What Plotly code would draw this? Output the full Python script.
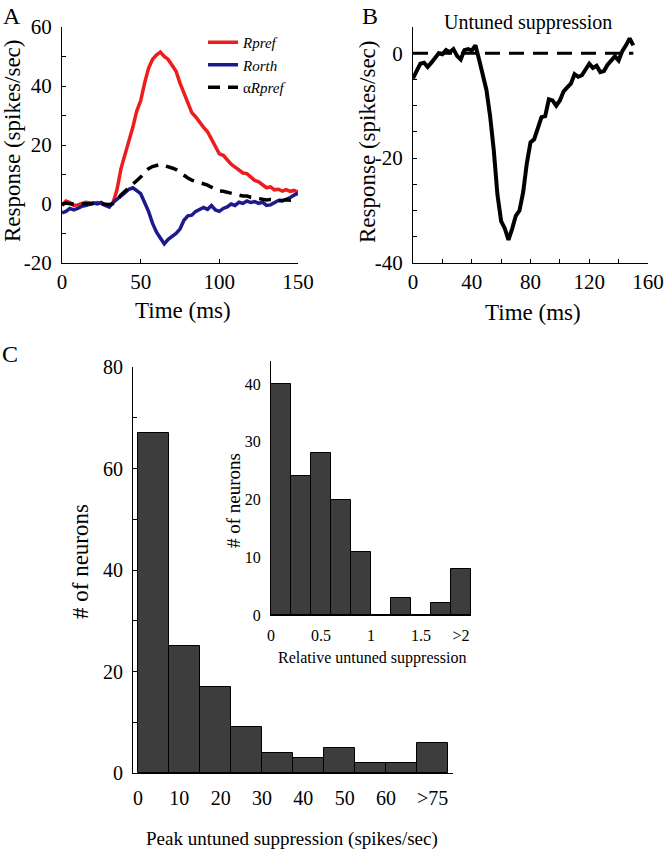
import plotly.graph_objects as go

# ---------------- data ----------------
time_a = [i * 2.5 for i in range(61)]
r_pref = [-0.5, 1.0, 0.5, -0.5, -0.3, 0.2, 0.6, 0.4, 0.3, 0.5, 0.2, -0.5, -0.8, 0.5, 5.0, 12.0,
          16.5, 21.0, 26.0, 31.5, 35.0, 41.0, 46.0, 49.0, 50.5, 51.5, 50.0, 49.0, 47.0, 45.0,
          41.0, 37.5, 34.0, 31.0, 29.5, 27.5, 26.0, 24.5, 22.0, 19.5, 17.0, 16.5, 15.0, 13.5,
          12.5, 11.5, 10.5, 10.3, 9.0, 8.0, 7.5, 6.5, 5.5, 5.8, 4.8, 5.0, 4.4, 4.9, 4.3, 4.6, 4.0]
r_orth = [-3.0, -2.5, -1.5, -2.0, -1.5, -0.8, -0.5, -0.2, 0.3, 0.0, 0.5, -0.3, -1.0, 0.5, 1.5, 2.5,
          3.8, 5.0, 5.5, 4.5, 3.5, 0.5, -2.5, -6.5, -9.5, -11.5, -13.5, -12.0, -11.0, -10.0,
          -8.5, -5.5, -4.0, -3.8, -2.5, -2.0, -1.2, -1.8, -0.5, -2.0, -2.5, -1.5, -1.0, 0.0,
          -0.5, 0.6, 0.2, 1.0, 0.5, 0.8, 0.2, 0.6, -0.5, -0.3, 0.5, 1.2, 1.0, 1.5, 2.2, 3.0, 3.6]
alpha_r_pref = [-0.1, 0.3, 0.1, -0.1, -0.1, 0.1, 0.2, 0.1, 0.1, 0.1, 0.1, -0.1, -0.2, 0.1, 1.3, 3.1,
                4.3, 5.5, 6.8, 8.2, 9.1, 10.7, 12.0, 12.7, 13.1, 13.4, 13.0, 12.7, 12.2, 11.7,
                10.7, 9.8, 8.8, 8.1, 7.7, 7.2, 6.8, 6.4, 5.7, 5.1, 4.4, 4.3, 3.9, 3.5,
                3.3, 3.0, 2.7, 2.7, 2.3, 2.1, 2.0, 1.7, 1.4, 1.5, 1.3, 1.4, 1.2, 1.4, 1.3, 1.5, 1.6]

time_b = [i * 2.5 for i in range(61)]
untuned = [-4.8, -3.2, -2.0, -1.8, -2.6, -1.8, -0.8, 0.0, -0.2, 0.6, 0.2, 0.8, -0.5, -1.2, 0.6, 0.8,
           0.5, 1.5, -1.2, -4.5, -7.0, -12.0, -18.5, -27.0, -32.0, -33.4, -35.6, -33.5, -31.0, -30.0,
           -26.5, -21.0, -17.0, -16.4, -14.5, -12.2, -12.0, -8.8, -9.0, -10.0, -9.0, -7.3, -6.5, -5.8,
           -4.0, -4.5, -4.2, -3.0, -2.0, -2.8, -2.4, -3.6, -3.4, -2.2, -1.3, -0.6, -1.4, 0.4, 1.5, 2.8, 1.5]
zero_t = [0, 150]
zero_v = [0, 0]

peak_bin_centers = [3.75, 11.25, 18.75, 26.25, 33.75, 41.25, 48.75, 56.25, 63.75, 71.25]
peak_counts = [67, 25, 17, 9, 4, 3, 5, 2, 2, 6]
peak_tick_vals = [0, 10, 20, 30, 40, 50, 60, 71.25]
peak_tick_text = ["0", "10", "20", "30", "40", "50", "60", ">75"]

rel_bin_centers = [0.1, 0.3, 0.5, 0.7, 0.9, 1.1, 1.3, 1.5, 1.7, 1.9]
rel_counts = [40, 24, 28, 20, 11, 0, 3, 0, 2, 8]
rel_tick_vals = [0, 0.5, 1, 1.5, 1.9]
rel_tick_text = ["0", "0.5", "1", "1.5", ">2"]

# ---------------- styling ----------------
W, H = 664, 853
SERIF = "Liberation Serif, Times New Roman, serif"
RED = "#ee1c1c"
NAVY = "#1c1a8c"
BAR = "#3d3d3d"


def px_x(p):
    return p / W


def px_y(p):
    return 1 - p / H


fig = go.Figure()

# Panel A
fig.add_trace(go.Scatter(x=time_a, y=r_pref, mode="lines", name="<i>Rpref</i>",
                         line=dict(color=RED, width=3.5), xaxis="x", yaxis="y"))
fig.add_trace(go.Scatter(x=time_a, y=r_orth, mode="lines", name="<i>Rorth</i>",
                         line=dict(color=NAVY, width=3.5), xaxis="x", yaxis="y"))
fig.add_trace(go.Scatter(x=time_a, y=alpha_r_pref, mode="lines", name="α<i>Rpref</i>",
                         line=dict(color="black", width=3.5, dash="12px,8px"), xaxis="x", yaxis="y"))

# Panel B
fig.add_trace(go.Scatter(x=zero_t, y=zero_v, mode="lines", showlegend=False,
                         line=dict(color="black", width=3, dash="15px,9px"), xaxis="x2", yaxis="y2"))
fig.add_trace(go.Scatter(x=time_b, y=untuned, mode="lines", showlegend=False,
                         line=dict(color="black", width=4), xaxis="x2", yaxis="y2"))

# Panel C
fig.add_trace(go.Bar(x=peak_bin_centers, y=peak_counts, width=7.5, showlegend=False,
                     marker=dict(color=BAR, line=dict(color="black", width=1)),
                     xaxis="x3", yaxis="y3"))
fig.add_trace(go.Bar(x=rel_bin_centers, y=rel_counts, width=0.2, showlegend=False,
                     marker=dict(color=BAR, line=dict(color="black", width=1)),
                     xaxis="x4", yaxis="y4"))


def axis(size=21, **kw):
    d = dict(showline=True, linecolor="black", linewidth=1, showgrid=False, zeroline=False,
             mirror=False, tickcolor="black", automargin=False,
             tickfont=dict(family=SERIF, size=size, color="black"))
    d.update(kw)
    return d


minor = lambda dt: dict(dtick=dt, ticks="inside", ticklen=4, tickcolor="black", showgrid=False)

fig.update_layout(
    template="none",
    width=W, height=H, margin=dict(l=0, r=0, t=0, b=0, pad=0), autosize=False,
    paper_bgcolor="white", plot_bgcolor="rgba(0,0,0,0)",
    bargap=0,
    showlegend=True,
    legend=dict(x=px_x(203), y=px_y(26), xanchor="left", yanchor="top",
                bgcolor="rgba(0,0,0,0)", borderwidth=0,
                font=dict(family=SERIF, size=15, color="black"),
                itemwidth=30, tracegroupgap=0),
    xaxis=axis(domain=[px_x(62), px_x(298)], anchor="y", range=[0, 150],
               tickvals=[0, 50, 100, 150], ticks="inside", ticklen=4),
    yaxis=axis(domain=[px_y(263), px_y(27)], anchor="x", range=[-20, 60],
               tickvals=[-20, 0, 20, 40, 60], ticktext=["-20", "0", "20", "40", "60"],
               ticks="inside", ticklen=4, minor=minor(10), ticklabelstandoff=5),
    xaxis2=axis(domain=[px_x(413), px_x(648)], anchor="y2", range=[0, 160],
                tickvals=[0, 40, 80, 120, 160], ticks="inside", ticklen=4, minor=minor(20)),
    yaxis2=axis(domain=[px_y(263), px_y(27)], anchor="x2", range=[-40, 5],
                tickvals=[-40, -20, 0], ticktext=["-40", "-20", "0"], ticks="inside", ticklen=4,
                minor=minor(5), ticklabelstandoff=5),
    xaxis3=axis(size=20, domain=[px_x(133), px_x(453)], anchor="y3", range=[-1.2, 76.2],
                tickvals=peak_tick_vals, ticktext=peak_tick_text, ticks="",
                ticklabelstandoff=7),
    yaxis3=axis(size=20, domain=[px_y(773), px_y(367)], anchor="x3", range=[0, 80],
                tickvals=[0, 20, 40, 60, 80], ticks="inside", ticklen=4, minor=minor(10),
                ticklabelstandoff=5),
    xaxis4=axis(size=16, domain=[px_x(271), px_x(471)], anchor="y4", range=[0, 2],
                tickvals=rel_tick_vals, ticktext=rel_tick_text, ticks="", ticklabelstandoff=6),
    yaxis4=axis(size=16, domain=[px_y(615), px_y(361)], anchor="x4", range=[0, 44],
                tickvals=[0, 10, 20, 30, 40], ticks="", ticklabelstandoff=6),
)


def ann(text, x, y, size, angle=0, xanchor="center", yanchor="middle"):
    fig.add_annotation(text=text, x=px_x(x), y=px_y(y), xref="paper", yref="paper",
                       showarrow=False, textangle=angle, xanchor=xanchor, yanchor=yanchor,
                       font=dict(family=SERIF, size=size, color="black"))


ann("A", 12, 1, 24, yanchor="top")
ann("B", 370, 1, 24, yanchor="top")
ann("C", 10, 354, 24)
ann("Response (spikes/sec)", 12, 141, 23, angle=-90)
ann("Time (ms)", 183, 310, 23)
ann("Response (spikes/sec)", 367, 142, 23, angle=-90)
ann("Time (ms)", 533, 312, 23)
ann("Untuned suppression", 528, 23, 20)
ann("# of neurons", 80, 562, 23, angle=-90)
ann("Peak untuned suppression (spikes/sec)", 292, 839, 19)
ann("# of neurons", 233, 500, 19, angle=-90)
ann("Relative untuned suppression", 372, 658, 16)

fig.write_html("out.html", config={"displayModeBar": False},
               post_script="document.body.style.margin='0';document.body.style.overflow='hidden';")
